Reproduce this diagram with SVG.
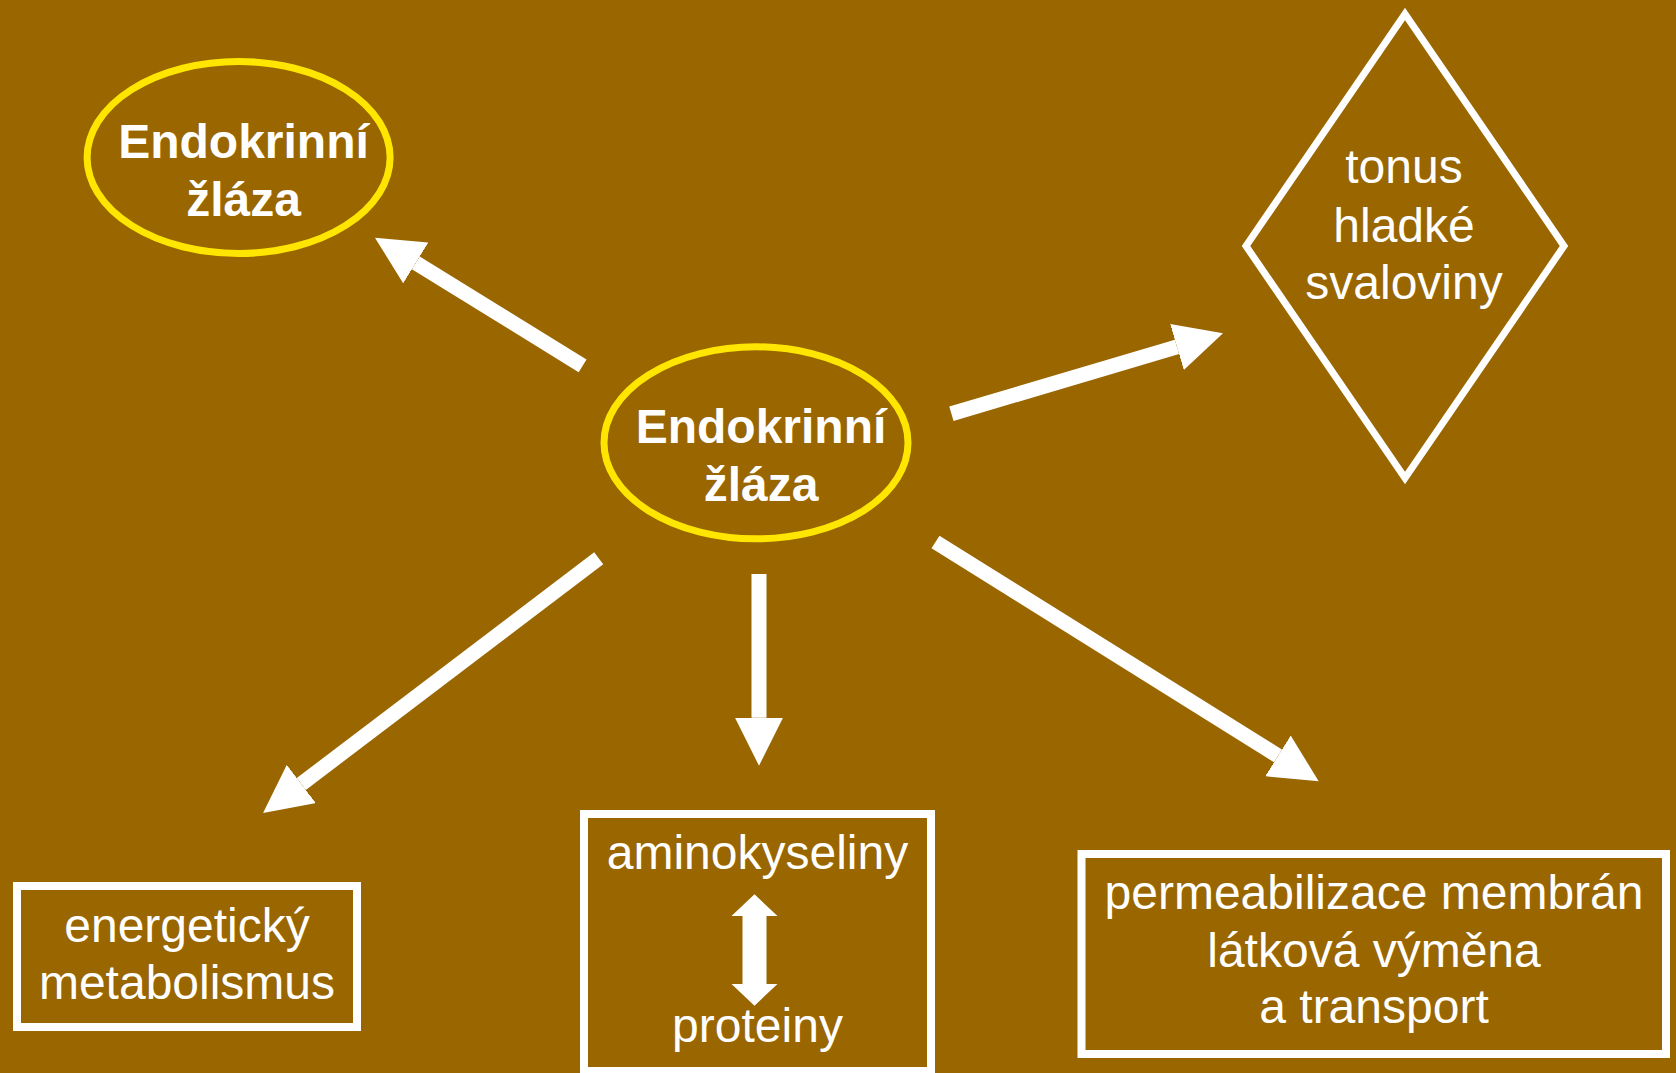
<svg xmlns="http://www.w3.org/2000/svg" width="1676" height="1073" viewBox="0 0 1676 1073">
<style>
.ell{fill:none;stroke:#FFE600;stroke-width:7}
.box{fill:none;stroke:#FFFFFF;stroke-width:8}
.tb{font-family:"Liberation Sans",Arial,sans-serif;font-size:48px;font-weight:bold;fill:#FFFFFF;text-anchor:middle}
.tr{font-family:"Liberation Sans",Arial,sans-serif;font-size:48px;fill:#FFFFFF;text-anchor:middle}
.arr{stroke:#FFFFFF;stroke-width:15;fill:none;marker-end:url(#head)}
</style>
<defs>
<marker id="head" markerUnits="userSpaceOnUse" markerWidth="48" markerHeight="48" refX="0" refY="24" orient="auto" viewBox="0 0 48 48">
<path d="M0,0 L48,24 L0,48 z" fill="#FFFFFF"/>
</marker>
</defs>
<rect x="0" y="0" width="1676" height="1073" fill="#996600"/>
<g id="connectors">
<line class="arr" x1="582.6" y1="365.8" x2="415.8" y2="262.9"/>
<line class="arr" x1="951.4" y1="413.8" x2="1177" y2="346.9"/>
<line class="arr" x1="598.7" y1="558.3" x2="301.3" y2="784"/>
<line class="arr" x1="759" y1="574" x2="759" y2="717.7"/>
<line class="arr" x1="935.5" y1="542" x2="1278" y2="755.9"/>
<polygon points="754.5,894.3 777.5,916 766.5,916 766.5,984 777.5,984 754.5,1005.7 731.5,984 742.5,984 742.5,916 731.5,916" fill="#FFFFFF"/>
</g>
<g id="gland-top">
<ellipse class="ell" cx="238.6" cy="157.5" rx="151.5" ry="96"/>
<text class="tb" x="243.5" y="158.3">Endokrinní</text>
<text class="tb" x="243.5" y="216">žláza</text>
</g>
<g id="gland-center">
<ellipse class="ell" cx="756" cy="442.8" rx="152" ry="96"/>
<text class="tb" x="761" y="443.3">Endokrinní</text>
<text class="tb" x="761" y="500.7">žláza</text>
</g>
<g id="tonus">
<polygon points="1405,14 1564,246 1405,478 1246,246" fill="none" stroke="#FFFFFF" stroke-width="7"/>
<text class="tr" x="1404" y="183.3">tonus</text>
<text class="tr" x="1404" y="241.7">hladké</text>
<text class="tr" x="1404" y="299.3">svaloviny</text>
</g>
<g id="metabolismus">
<rect class="box" x="17" y="886" width="340" height="141"/>
<text class="tr" x="187" y="942.3">energetický</text>
<text class="tr" x="187" y="999">metabolismus</text>
</g>
<g id="aminokyseliny">
<rect class="box" x="584" y="814" width="347" height="257"/>
<text class="tr" x="757.5" y="869.3">aminokyseliny</text>
<text class="tr" x="757.5" y="1041.7">proteiny</text>
</g>
<g id="permeabilizace">
<rect class="box" x="1081.5" y="854" width="584.5" height="200"/>
<text class="tr" x="1374" y="909.3">permeabilizace membrán</text>
<text class="tr" x="1374" y="966.7">látková výměna</text>
<text class="tr" x="1374" y="1023.3">a transport</text>
</g>
</svg>
